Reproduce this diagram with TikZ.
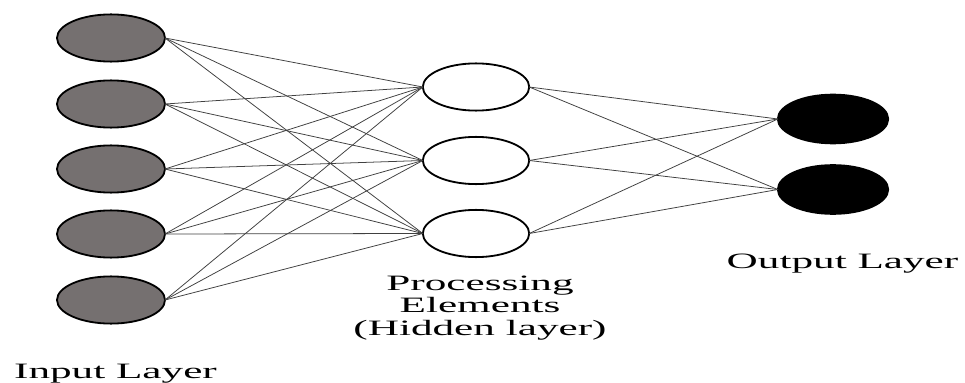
\documentclass[tikz,border=0pt]{standalone}
\usepackage{fontspec}
\setmainfont{Liberation Serif}
\newfontfamily\widefont[FakeStretch=1.97]{Liberation Serif}
\usetikzlibrary{shapes.geometric}
\definecolor{ingray}{RGB}{117,112,112}

\begin{document}
\begin{tikzpicture}[x=0.25mm, y=-0.25mm, line cap=round, line join=round,
                    every node/.style={outer sep=0pt}]

  \tikzset{
    unit/.style={ellipse, draw=black, line width=1.3pt, inner sep=0pt},
    vin/.style={unit, fill=ingray, minimum width=2.7cm, minimum height=1.18cm},
    vhid/.style={unit, fill=white, minimum width=2.66cm, minimum height=1.18cm},
    vout/.style={unit, fill=black, minimum width=2.76cm, minimum height=1.22cm},
    edge/.style={line width=0.55pt, draw=black!75},
    caption/.style={font=\widefont\fontsize{15.6}{15.8}\selectfont, align=center, inner sep=0pt}
  }

  \path[use as bounding box] (0,0) rectangle (965,383);

  % input layer
  \foreach \i/\y in {1/38,2/104,3/169,4/234,5/300}
    \node[vin] (i\i) at (111,\y) {};

  % hidden layer
  \foreach \i/\y in {1/87,2/160.5,3/233.5}
    \node[vhid] (h\i) at (476,\y) {};

  % output layer
  \foreach \i/\y in {1/119,2/189.5}
    \node[vout] (o\i) at (833,\y) {};

  % connections
  \foreach \a in {1,...,5}
    \foreach \b in {1,2,3}
      \draw[edge] (i\a.east) -- (h\b.west);
  \foreach \a in {1,2,3}
    \foreach \b in {1,2}
      \draw[edge] (h\a.east) -- (o\b.west);

  % captions
  \node[caption, anchor=base] (inlab) at (115.5,378) {Input Layer};
  \node[caption, anchor=base] (hidlab) at (480,335) {Processing\\Elements\\(Hidden layer)};
  \node[caption, anchor=base] (outlab) at (842.5,268) {Output Layer};
\end{tikzpicture}
\end{document}
